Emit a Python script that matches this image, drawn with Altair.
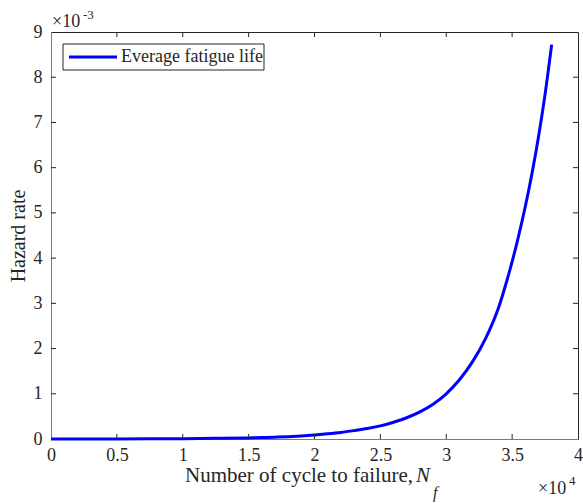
import altair as alt
import pandas as pd

# ---- data (x in units of 1e4 cycles, hazard in units of 1e-3) ----
cycles_e4 = [0, 0.25, 0.5, 0.75, 1.0, 1.25, 1.5, 1.6, 1.7, 1.8, 1.9, 2.0, 2.1, 2.2, 2.3, 2.4,
             2.5, 2.6, 2.7, 2.8, 2.9, 3.0, 3.1, 3.2, 3.3, 3.4, 3.45, 3.5, 3.55, 3.6, 3.65,
             3.7, 3.75, 3.8]
hazard_e3 = [0, 0.001, 0.002, 0.004, 0.008, 0.014, 0.024, 0.031, 0.04, 0.052, 0.069, 0.09, 0.115,
             0.145, 0.185, 0.23, 0.29, 0.37, 0.47, 0.60, 0.77, 1.00, 1.31, 1.71, 2.23, 2.93,
             3.40, 3.92, 4.50, 5.14, 5.86, 6.68, 7.62, 8.72]
x_ticks = [0, 0.5, 1, 1.5, 2, 2.5, 3, 3.5, 4]
y_ticks = [0, 1, 2, 3, 4, 5, 6, 7, 8, 9]
series = ["Everage fatigue life"]
x_title = "Number of cycle to failure,"
x_title_var = "N"
x_title_sub = "f"
y_title = "Hazard rate"
x_mult = ["\u00d710", "4"]
y_mult = ["\u00d710", "-3"]

W, H = 527, 407
FONT = "Liberation Serif"
INK = "#262626"
BLUE = "#0000ff"
TICK = 5

curve_df = pd.DataFrame({"N": cycles_e4, "h": hazard_e3})
xscale = alt.Scale(domain=[0, 4], nice=False, zero=False)
yscale = alt.Scale(domain=[0, 9], nice=False, zero=False)

curve = alt.Chart(curve_df).mark_line(color=BLUE, strokeWidth=3, interpolate="monotone").encode(
    x=alt.X("N:Q", scale=xscale,
            axis=alt.Axis(values=x_ticks, format="~g", title=None, ticks=False, tickSize=0,
                          labelPadding=7, labelFont=FONT, labelFontSize=18, labelColor=INK,
                          domainColor="#7a7a7a", grid=False, labelFlush=False)),
    y=alt.Y("h:Q", scale=yscale,
            axis=alt.Axis(values=y_ticks, format="~g", title=y_title, ticks=False, tickSize=0,
                          labelPadding=9, labelFont=FONT, labelFontSize=18, labelColor=INK,
                          domainColor="#7a7a7a", grid=False, labelFlush=False,
                          titleFont=FONT, titleFontSize=20, titleFontWeight="normal",
                          titleColor=INK, titlePadding=5)),
)

xt = pd.DataFrame({"N": x_ticks[1:-1]})
yt = pd.DataFrame({"h": y_ticks[1:-1]})
tick_rule = dict(color=INK, strokeWidth=1)
bottom_ticks = alt.Chart(xt).mark_rule(**tick_rule).encode(
    x=alt.X("N:Q", scale=xscale), y=alt.value(H), y2=alt.value(H - TICK))
top_ticks = alt.Chart(xt).mark_rule(**tick_rule).encode(
    x=alt.X("N:Q", scale=xscale), y=alt.value(0), y2=alt.value(TICK))
left_ticks = alt.Chart(yt).mark_rule(**tick_rule).encode(
    y=alt.Y("h:Q", scale=yscale), x=alt.value(0), x2=alt.value(TICK))
right_ticks = alt.Chart(yt).mark_rule(**tick_rule).encode(
    y=alt.Y("h:Q", scale=yscale), x=alt.value(W), x2=alt.value(W - TICK))

one = alt.Data(values=[{}])

def txt(text, x, y, size=18, align="left", style="normal", baseline="alphabetic"):
    return alt.Chart(one).mark_text(font=FONT, fontSize=size, align=align, baseline=baseline,
                                    fontStyle=style, color=INK).encode(
        x=alt.value(x), y=alt.value(y), text=alt.value(text))

# legend
leg_box = alt.Chart(one).mark_rect(fill="white", stroke=INK, strokeWidth=1).encode(
    x=alt.value(12), x2=alt.value(213), y=alt.value(12), y2=alt.value(38))
leg_line = alt.Chart(one).mark_rule(color=BLUE, strokeWidth=3).encode(
    x=alt.value(18), x2=alt.value(66), y=alt.value(25))
leg_text = txt(series[0], 70, 25, size=18, baseline="middle")

# axis titles / multipliers
xt1 = txt(x_title, 362, 450, size=21, align="right")
xt2 = txt(x_title_var, 365, 450, size=21, style="italic")
xt3 = txt(x_title_sub, 382, 466, size=16, style="italic")
xm1 = txt(x_mult[0], 487, 462, size=18)
xm2 = txt(x_mult[1], 518, 453, size=13)
ym1 = txt(y_mult[0], 1, -5, size=18)
ym2 = txt(y_mult[1], 32, -13, size=13)

chart = alt.layer(
    curve, bottom_ticks, top_ticks, left_ticks, right_ticks,
    leg_box, leg_line, leg_text, xt1, xt2, xt3, xm1, xm2, ym1, ym2
).properties(
    width=W, height=H,
    autosize=alt.AutoSizeParams(type="none"),
    padding={"left": 51, "top": 32, "right": 5, "bottom": 64},
    background="white",
).configure_view(stroke=INK, strokeWidth=1)

chart.save("out.html", embed_options={"renderer": "svg", "actions": False})
